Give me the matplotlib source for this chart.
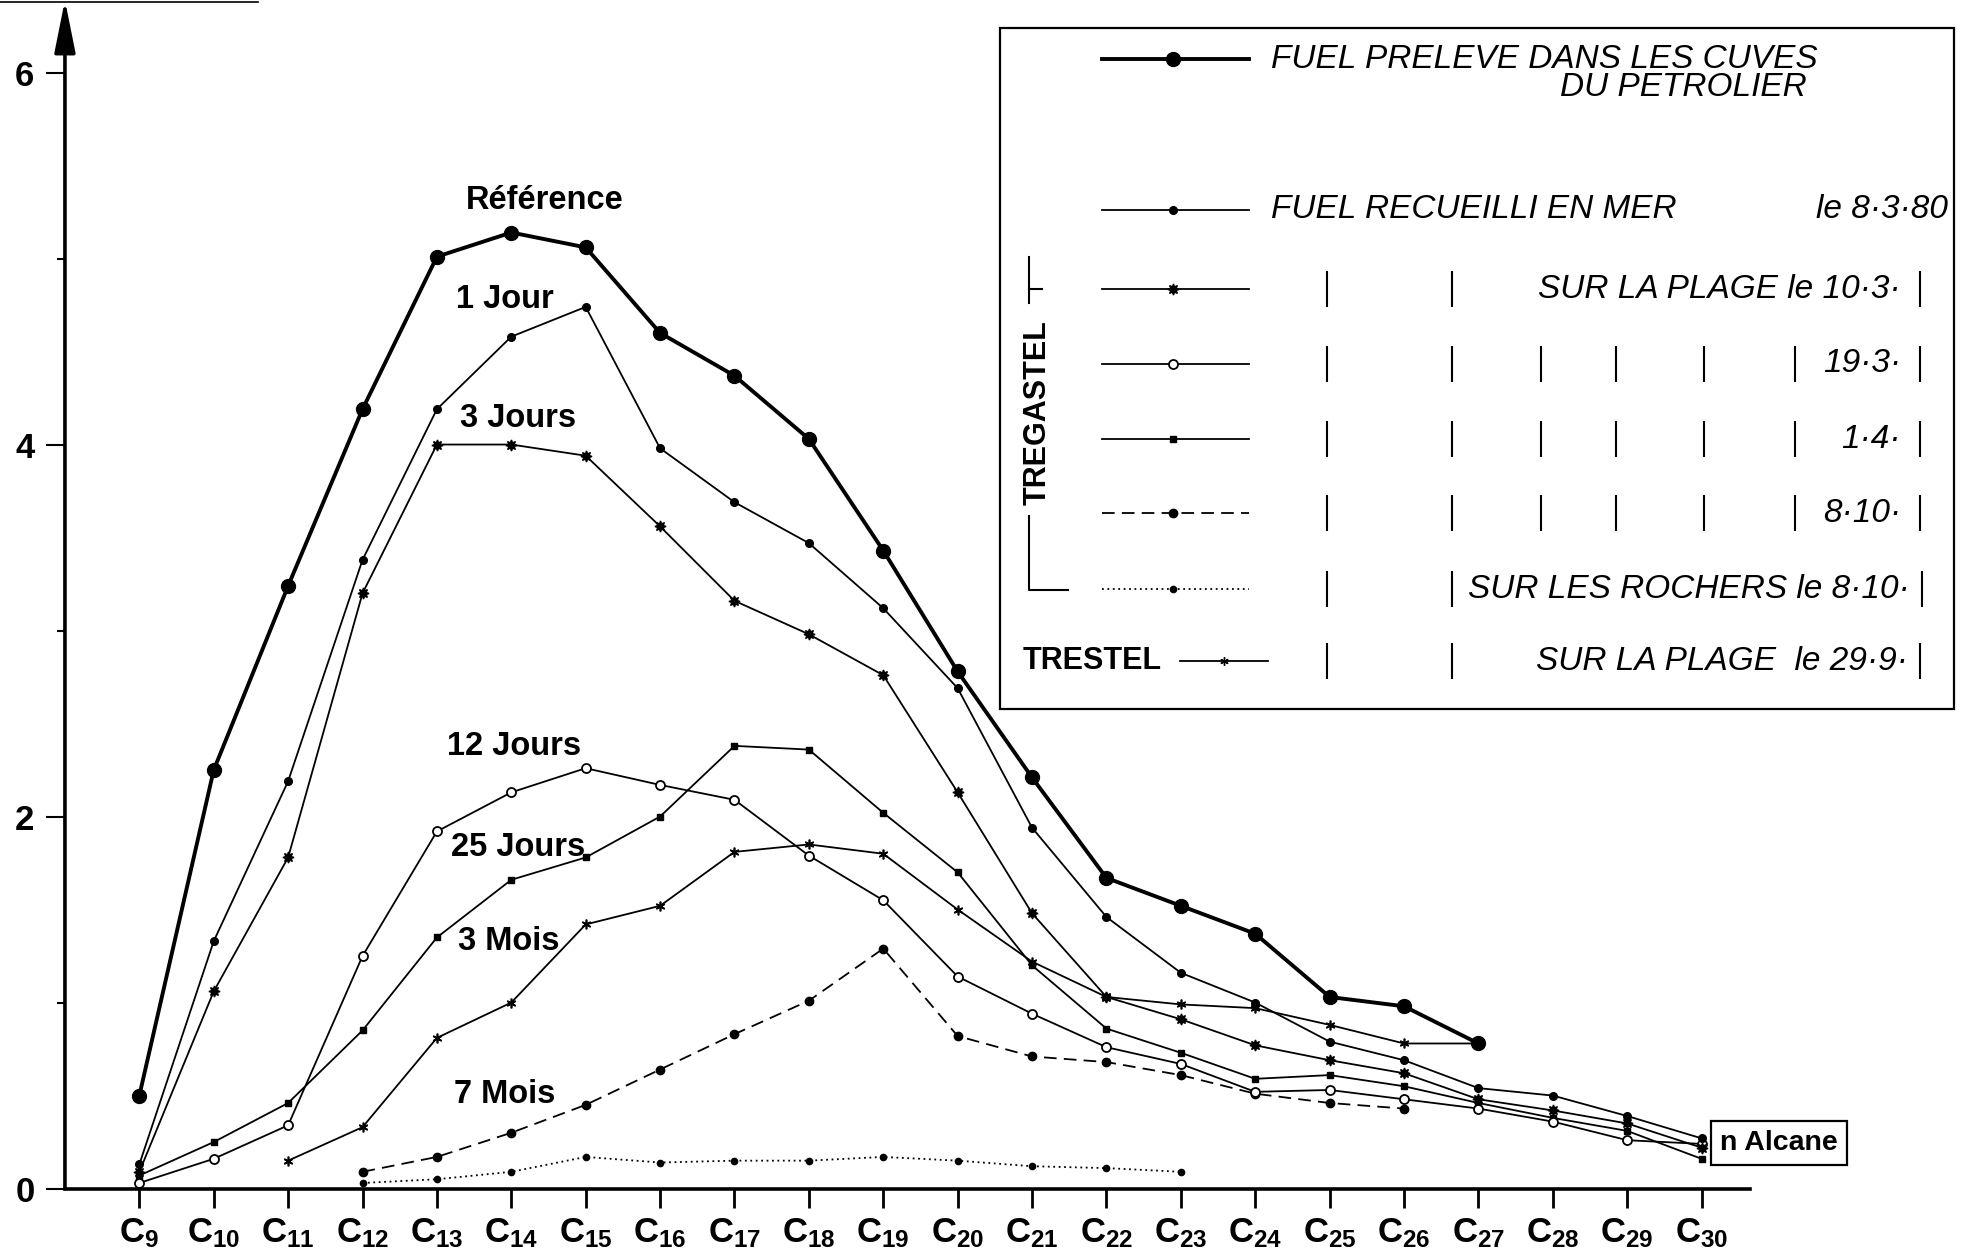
import matplotlib
matplotlib.use("Agg")
import matplotlib.pyplot as plt
from matplotlib.patches import Rectangle

plt.rcParams["font.family"] = ["Liberation Sans", "DejaVu Sans"]
plt.rcParams["mathtext.fontset"] = "custom"
plt.rcParams["mathtext.rm"] = "Liberation Sans"
plt.rcParams["mathtext.bf"] = "Liberation Sans:bold"

# carbon number of each n-alkane on the x axis
carbons = list(range(9, 31))
x_labels = [r"$\mathbf{C_{%d}}$" % c for c in carbons]

# Référence: fuel taken from the tanker (C9..C27)
ref_c = list(range(9, 28))
ref_vals = [0.50, 2.25, 3.24, 4.19, 5.01, 5.14, 5.06, 4.60, 4.37, 4.03, 3.43,
            2.78, 2.21, 1.67, 1.52, 1.37, 1.03, 0.98, 0.78]

# 1 Jour: fuel collected at sea (C9..C30)
jour1_c = list(range(9, 31))
jour1_vals = [0.13, 1.33, 2.19, 3.38, 4.19, 4.58, 4.74, 3.98, 3.69, 3.47, 3.12,
              2.69, 1.94, 1.46, 1.16, 1.00, 0.79, 0.69, 0.54, 0.50, 0.39, 0.27]

# 3 Jours: Tregastel beach 10.3
jours3_c = list(range(9, 31))
jours3_vals = [0.09, 1.06, 1.78, 3.20, 4.00, 4.00, 3.94, 3.56, 3.16, 2.98, 2.76,
               2.13, 1.48, 1.03, 0.91, 0.77, 0.69, 0.62, 0.48, 0.42, 0.35, 0.22]

# 12 Jours: 19.3
jours12_c = list(range(9, 31))
jours12_vals = [0.03, 0.16, 0.34, 1.25, 1.92, 2.13, 2.26, 2.17, 2.09, 1.79, 1.55,
                1.14, 0.94, 0.76, 0.67, 0.52, 0.53, 0.48, 0.43, 0.36, 0.26, 0.24]

# 25 Jours: 1.4
jours25_c = list(range(9, 31))
jours25_vals = [0.07, 0.25, 0.46, 0.85, 1.35, 1.66, 1.78, 2.00, 2.38, 2.36, 2.02,
                1.70, 1.20, 0.86, 0.73, 0.59, 0.61, 0.55, 0.46, 0.38, 0.31, 0.16]

# 3 Mois: Trestel beach 29.9 (C11..C27)
mois3_c = list(range(11, 28))
mois3_vals = [0.15, 0.33, 0.81, 1.00, 1.42, 1.52, 1.81, 1.85, 1.80, 1.50, 1.22,
              1.03, 0.99, 0.97, 0.88, 0.78, 0.78]

# 7 Mois: Tregastel beach 8.10 (C12..C26)
mois7_c = list(range(12, 27))
mois7_vals = [0.09, 0.17, 0.30, 0.45, 0.64, 0.83, 1.01, 1.29, 0.82, 0.71, 0.68,
              0.61, 0.51, 0.46, 0.43]

# Tregastel rocks 8.10 (C12..C23)
rochers_c = list(range(12, 24))
rochers_vals = [0.03, 0.05, 0.09, 0.17, 0.14, 0.15, 0.15, 0.17, 0.15, 0.12,
                0.11, 0.09]

curve_labels = ["Référence", "1 Jour", "3 Jours", "12 Jours", "25 Jours",
                "3 Mois", "7 Mois"]
curve_label_x = [14.45, 13.91, 14.09, 14.04, 14.09, 13.96, 13.91]
curve_label_y = [5.31, 4.78, 4.14, 2.375, 1.835, 1.33, 0.506]

k = "black"
styles = {
    "ref": dict(color=k, lw=2.8, marker="o", ms=10),
    "jour1": dict(color=k, lw=1.3, marker="o", ms=5.5),
    "jours3": dict(color=k, lw=1.3, marker=(8, 1, 0), ms=8),
    "jours12": dict(color=k, lw=1.3, marker="o", ms=6.5, mfc="white", mew=1.3),
    "jours25": dict(color=k, lw=1.3, marker="s", ms=5),
    "mois3": dict(color=k, lw=1.3, marker=(6, 2, 0), ms=7, mew=1.2),
    "mois7": dict(color=k, lw=1.3, marker="o", ms=6, ls=(0, (7, 4))),
    "rochers": dict(color=k, lw=1.3, marker="o", ms=4.5, ls=(0, (1, 2))),
}

fig = plt.figure(figsize=(19.68, 12.58), dpi=100)
ax = fig.add_axes([0.0330, 0.0552, 0.8562, 0.9448])

ax.plot(rochers_c, rochers_vals, **styles["rochers"])
ax.plot(mois7_c, mois7_vals, **styles["mois7"])
ax.plot(mois3_c, mois3_vals, **styles["mois3"])
ax.plot(jours25_c, jours25_vals, **styles["jours25"])
ax.plot(jours12_c, jours12_vals, **styles["jours12"])
ax.plot(jours3_c, jours3_vals, **styles["jours3"])
ax.plot(jour1_c, jour1_vals, **styles["jour1"])
ax.plot(ref_c, ref_vals, **styles["ref"], zorder=5)

for lab, lx, ly in zip(curve_labels, curve_label_x, curve_label_y):
    ax.text(lx, ly, lab, ha="center", va="center", fontsize=23.5,
            fontweight="bold")

ax.set_xlim(8.0, 30.65)
ax.set_ylim(0, 6.39)
ax.set_xticks(carbons)
ax.set_xticklabels(x_labels, fontsize=25)
ax.set_yticks([0, 2, 4, 6])
ax.set_yticklabels(["0", "2", "4", "6"], fontsize=25, fontweight="bold")
ax.set_yticks([1, 3, 5], minor=True)
ax.tick_params(axis="x", direction="out", length=14, width=2, pad=6)
ax.tick_params(axis="y", which="major", direction="out", length=14, width=1.5, pad=8)
ax.tick_params(axis="y", which="minor", direction="out", length=6, width=1.5)

for side in ("top", "right", "left"):
    ax.spines[side].set_visible(False)
ax.spines["bottom"].set_linewidth(2.6)
ax.patch.set_visible(False)

# y axis drawn as an arrow
ax.annotate("", xy=(0, 1.0), xytext=(0, 0), xycoords="axes fraction",
            arrowprops=dict(arrowstyle="-|>,head_length=0.8,head_width=0.16",
                            mutation_scale=40, lw=2.6, color=k,
                            shrinkA=0, shrinkB=0))

# overlay in pixel coordinates for the legend block and boxes
ov = fig.add_axes([0, 0, 1, 1], zorder=10)
ov.set_xlim(0, 1968)
ov.set_ylim(1258, 0)
ov.axis("off")
ov.patch.set_visible(False)

ov.plot([0, 258], [2, 2], color=k, lw=1.2)

ov.add_patch(Rectangle((1000, 28), 954, 681, fill=False, lw=1.6, ec=k))

rows = [59, 210, 289, 364, 439, 513, 589]
row_keys = ["ref", "jour1", "jours3", "jours12", "jours25", "mois7", "rochers"]
for y, key in zip(rows, row_keys):
    st = dict(styles[key])
    mk = st.pop("marker")
    ms = st.pop("ms")
    mfc = st.pop("mfc", k)
    mew = st.pop("mew", 1)
    ov.plot([1102, 1249], [y, y], **st)
    ov.plot([1173], [y], marker=mk, ms=ms, mfc=mfc, mew=mew, color=k, ls="none")

st = dict(styles["mois3"])
st.pop("marker")
st.pop("ms")
st.pop("mew")
ov.plot([1180, 1268], [661, 661], **st)
ov.plot([1224], [661], marker=(6, 2, 0), ms=6, mew=1.0, color=k, ls="none")

itf = dict(fontsize=24, style="italic", va="center")
ov.text(1271, 59, "FUEL PRELEVE DANS LES CUVES", ha="left", **itf)
ov.text(1807, 88, "DU PETROLIER", ha="right", **itf)
ov.text(1271, 210, "FUEL RECUEILLI EN MER", ha="left", **itf)
ov.text(1948, 210, "le 8·3·80", ha="right", **itf)
ov.text(1901, 289, "SUR LA PLAGE le 10·3·", ha="right", **itf)
ov.text(1901, 364, "19·3·", ha="right", **itf)
ov.text(1901, 439, "1·4·", ha="right", **itf)
ov.text(1901, 513, "8·10·", ha="right", **itf)
ov.text(1910, 589, "SUR LES ROCHERS le 8·10·", ha="right", **itf)
ov.text(1908, 661, "SUR LA PLAGE  le 29·9·", ha="right", **itf)

ov.text(1023, 661, "TRESTEL", ha="left", va="center", fontsize=22,
        fontweight="bold")
ov.text(1038, 413, "TREGASTEL", ha="center", va="center", rotation=90,
        fontsize=22, fontweight="bold")

# bracket around the Tregastel rows
ov.plot([1029, 1029], [257, 303], color=k, lw=1.5)
ov.plot([1029, 1042], [289, 289], color=k, lw=1.5)
ov.plot([1029, 1029, 1068], [516, 590, 590], color=k, lw=1.5)

# ditto marks
bars = {
    289: [1327, 1452, 1920],
    364: [1327, 1452, 1541, 1616, 1704, 1795, 1920],
    439: [1327, 1452, 1541, 1616, 1704, 1795, 1920],
    513: [1327, 1452, 1541, 1616, 1704, 1795, 1920],
    589: [1327, 1452, 1922],
    661: [1327, 1452, 1920],
}
for y, xs in bars.items():
    ov.vlines(xs, y - 18, y + 18, color=k, lw=1.5)

ov.add_patch(Rectangle((1711, 1121), 136, 44, fill=False, lw=1.6, ec=k))
ov.text(1779, 1143, "n Alcane", ha="center", va="center", fontsize=20.5,
        fontweight="bold")

fig.savefig("out.png", dpi=100, facecolor="white")
